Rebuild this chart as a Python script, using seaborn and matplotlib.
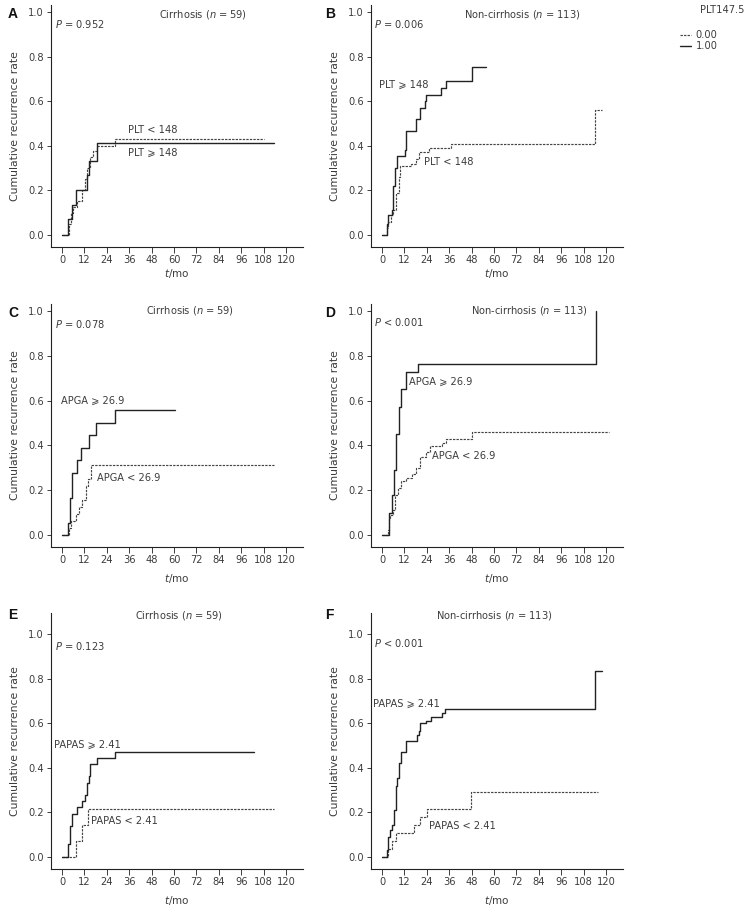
import pandas as pd
import numpy as np
import matplotlib
matplotlib.use("Agg")
import matplotlib.pyplot as plt
from matplotlib.lines import Line2D
import seaborn as sns

sns.set_theme(style="ticks")
plt.rcParams['font.family'] = ['DejaVu Sans', 'Noto Sans', 'Noto Sans CJK SC']
plt.rcParams['mathtext.fontset'] = 'dejavusans'

# ---- data (months, cumulative recurrence rate) ----
A_hi_t = [0, 3.4, 5.5, 7.5, 13.6, 14.3, 18.6, 113.6]
A_hi_r = [0, 0.07, 0.133, 0.2, 0.267, 0.333, 0.414, 0.414]
A_lo_t = [0, 3.75, 4.6, 6.0, 8.2, 10.5, 12.3, 13.6, 15.0, 16.4, 19.0, 28.4, 108.0]
A_lo_r = [0, 0.05, 0.10, 0.125, 0.15, 0.20, 0.25, 0.30, 0.35, 0.375, 0.40, 0.43, 0.43]

B_hi_t = [0, 2.7, 3.2, 5.2, 6.1, 7.0, 7.9, 12.4, 13.0, 18.0, 20.1, 22.8, 23.7, 31.4, 34.1, 48.0, 55.7]
B_hi_r = [0, 0.05, 0.09, 0.11, 0.22, 0.30, 0.355, 0.38, 0.465, 0.52, 0.57, 0.60, 0.627, 0.66, 0.69, 0.754, 0.754]
B_lo_t = [0, 2.7, 3.4, 4.8, 5.8, 7.5, 9.0, 9.9, 15.3, 18.0, 19.8, 25.1, 37.0, 114.0, 117.7]
B_lo_r = [0, 0.03, 0.06, 0.09, 0.11, 0.19, 0.26, 0.31, 0.32, 0.34, 0.37, 0.39, 0.41, 0.56, 0.56]

C_hi_t = [0, 3.2, 4.3, 5.5, 8.2, 10.4, 14.6, 18.4, 28.4, 60.4]
C_hi_r = [0, 0.055, 0.167, 0.278, 0.333, 0.389, 0.444, 0.50, 0.556, 0.556]
C_lo_t = [0, 3.75, 4.6, 7.3, 9.1, 10.7, 12.7, 14.1, 15.4, 113.6]
C_lo_r = [0, 0.03, 0.06, 0.094, 0.125, 0.156, 0.219, 0.25, 0.313, 0.313]

D_hi_t = [0, 3.8, 5.4, 6.5, 7.4, 9.0, 10.2, 13.1, 19.4, 114.6]
D_hi_r = [0, 0.10, 0.18, 0.29, 0.45, 0.57, 0.65, 0.727, 0.765, 1.0]
D_lo_t = [0, 3.1, 3.6, 4.5, 5.7, 7.2, 8.6, 10.0, 12.9, 16.2, 18.0, 20.1, 23.7, 25.7, 32.0, 34.1, 48.0, 121.5]
D_lo_r = [0, 0.02, 0.07, 0.09, 0.11, 0.18, 0.21, 0.24, 0.255, 0.27, 0.30, 0.35, 0.37, 0.395, 0.41, 0.43, 0.46, 0.46]

E_hi_t = [0, 3.2, 4.5, 5.5, 8.2, 10.5, 12.3, 13.2, 14.3, 15.2, 18.6, 28.4, 102.9]
E_hi_r = [0, 0.056, 0.139, 0.194, 0.222, 0.25, 0.278, 0.333, 0.361, 0.417, 0.444, 0.472, 0.472]
E_lo_t = [0, 7.3, 10.5, 14.1, 113.6]
E_lo_r = [0, 0.071, 0.143, 0.214, 0.214]

F_hi_t = [0, 2.7, 3.2, 4.1, 5.4, 6.3, 7.5, 8.2, 9.3, 10.4, 12.9, 18.5, 19.7, 20.6, 23.3, 26.0, 31.9, 34.0, 114.3, 117.9]
F_hi_r = [0, 0.03, 0.09, 0.12, 0.145, 0.21, 0.32, 0.355, 0.42, 0.47, 0.518, 0.545, 0.565, 0.60, 0.61, 0.627, 0.645, 0.665, 0.835, 0.835]
F_lo_t = [0, 3.0, 5.4, 7.5, 17.4, 20.6, 24.2, 47.5, 115.6]
F_lo_r = [0, 0.035, 0.07, 0.107, 0.143, 0.178, 0.214, 0.293, 0.293]

letters = ['A', 'B', 'C', 'D', 'E', 'F']
titles = ['Cirrhosis ($\\it{n}$ = 59)', 'Non-cirrhosis ($\\it{n}$ = 113)'] * 3
p_texts = ['$\\it{P}$ = 0.952', '$\\it{P}$ = 0.006', '$\\it{P}$ = 0.078',
           '$\\it{P}$ < 0.001', '$\\it{P}$ = 0.123', '$\\it{P}$ < 0.001']
hi_labels = ['PLT \u2a7e 148', 'PLT \u2a7e 148', 'APGA \u2a7e 26.9', 'APGA \u2a7e 26.9',
             'PAPAS \u2a7e 2.41', 'PAPAS \u2a7e 2.41']
lo_labels = ['PLT < 148', 'PLT < 148', 'APGA < 26.9', 'APGA < 26.9',
             'PAPAS < 2.41', 'PAPAS < 2.41']
legend_title = 'PLT147.5'
legend_labels = ['0.00', '1.00']
x_ticks = list(range(0, 121, 12))
y_ticks = [0.0, 0.2, 0.4, 0.6, 0.8, 1.0]

curves = [(A_hi_t, A_hi_r, A_lo_t, A_lo_r), (B_hi_t, B_hi_r, B_lo_t, B_lo_r),
          (C_hi_t, C_hi_r, C_lo_t, C_lo_r), (D_hi_t, D_hi_r, D_lo_t, D_lo_r),
          (E_hi_t, E_hi_r, E_lo_t, E_lo_r), (F_hi_t, F_hi_r, F_lo_t, F_lo_r)]

# layout (pixels of 749x908 canvas -> fractions)
W, H = 749, 908
col_left = [51, 371]
row_box = [(5, 247), (304, 547), (613, 869)]
row_ytop = [1.031, 1.031, 1.094]
letter_y = [14, 313, 615]
title_pos = [(75.5, 0.99), (75.3, 0.99), (68.8, 1.0), (79, 1.0), (62.7, 1.085), (60, 1.085)]
p_pos = [(-3.7, 0.946), (-4.2, 0.946), (-3.7, 0.942), (-4.2, 0.949), (-3.7, 0.947), (-4.2, 0.96)]
hi_pos = [(35.4, 0.368), (-1.8, 0.673), (-0.5, 0.60), (14.7, 0.683), (-4.3, 0.502), (-4.8, 0.686)]
lo_pos = [(35.4, 0.47), (22.4, 0.327), (18.6, 0.253), (26.9, 0.351), (15.5, 0.161), (25.2, 0.139)]
xlab_pad = [1.5, 5, 4.5]

ink = '#222222'
txt = '#3c3c3c'
fs = 7.1
dash = (0, (2.0, 1.0))

fig = plt.figure(figsize=(W / 100, H / 100), dpi=100)

for i in range(6):
    row, col = divmod(i, 2)
    top, bot = row_box[row]
    ax = fig.add_axes([col_left[col] / W, 1 - bot / H, 252 / W, (bot - top) / H])
    hi_t, hi_r, lo_t, lo_r = curves[i]
    df_hi = pd.DataFrame({'t': hi_t, 'rate': hi_r})
    df_lo = pd.DataFrame({'t': lo_t, 'rate': lo_r})
    sns.lineplot(data=df_lo, x='t', y='rate', ax=ax, estimator=None, drawstyle='steps-post',
                 color='#444444', linewidth=0.85, linestyle=dash)
    sns.lineplot(data=df_hi, x='t', y='rate', ax=ax, estimator=None, drawstyle='steps-post',
                 color=ink, linewidth=1.0)
    ax.set_xlim(-5.9, 129.1)
    ax.set_ylim(-0.054, row_ytop[row])
    ax.set_xticks(x_ticks)
    ax.set_yticks(y_ticks)
    ax.set_yticklabels(['%.1f' % v for v in y_ticks])
    ax.tick_params(axis='both', labelsize=fs, colors=txt, length=3, width=0.7, pad=2)
    ax.tick_params(axis='x', length=4)
    for s in ['left', 'bottom']:
        ax.spines[s].set_color(ink)
        ax.spines[s].set_linewidth(0.8)
    sns.despine(ax=ax)
    ax.set_xlabel('$\\it{t}$/mo', fontsize=fs + 0.4, color=txt, labelpad=xlab_pad[row])
    ax.set_ylabel('Cumulative recurrence rate', fontsize=7.8, color=txt, labelpad=6)
    ax.text(*title_pos[i], titles[i], fontsize=fs, color=txt, ha='center', va='center')
    ax.text(*p_pos[i], p_texts[i], fontsize=fs, color=txt, ha='left', va='center')
    ax.text(*hi_pos[i], hi_labels[i], fontsize=fs, color=txt, ha='left', va='center')
    ax.text(*lo_pos[i], lo_labels[i], fontsize=fs, color=txt, ha='left', va='center')
    fig.text((8 if col == 0 else 325) / W, 1 - letter_y[row] / H,
             letters[i], fontsize=10, fontweight='bold', family='Liberation Sans',
             color='#111111', ha='left', va='center')

# group legend, top right
fig.text(722 / W, 1 - 10 / H, legend_title, fontsize=fs, color=txt, ha='center', va='center')
handles = [Line2D([], [], color='#444444', linewidth=0.85, linestyle=dash, drawstyle='steps-post'),
           Line2D([], [], color=ink, linewidth=1.0, drawstyle='steps-post')]
leg = fig.legend(handles, legend_labels, loc='upper left',
                 bbox_to_anchor=(680 / W, 1 - 30 / H), frameon=False, fontsize=fs,
                 handlelength=1.1, handletextpad=0.5,
                 labelspacing=0.12, borderpad=0.0, borderaxespad=0.0)
for t in leg.get_texts():
    t.set_color(txt)

fig.savefig('out.png', dpi=100)
